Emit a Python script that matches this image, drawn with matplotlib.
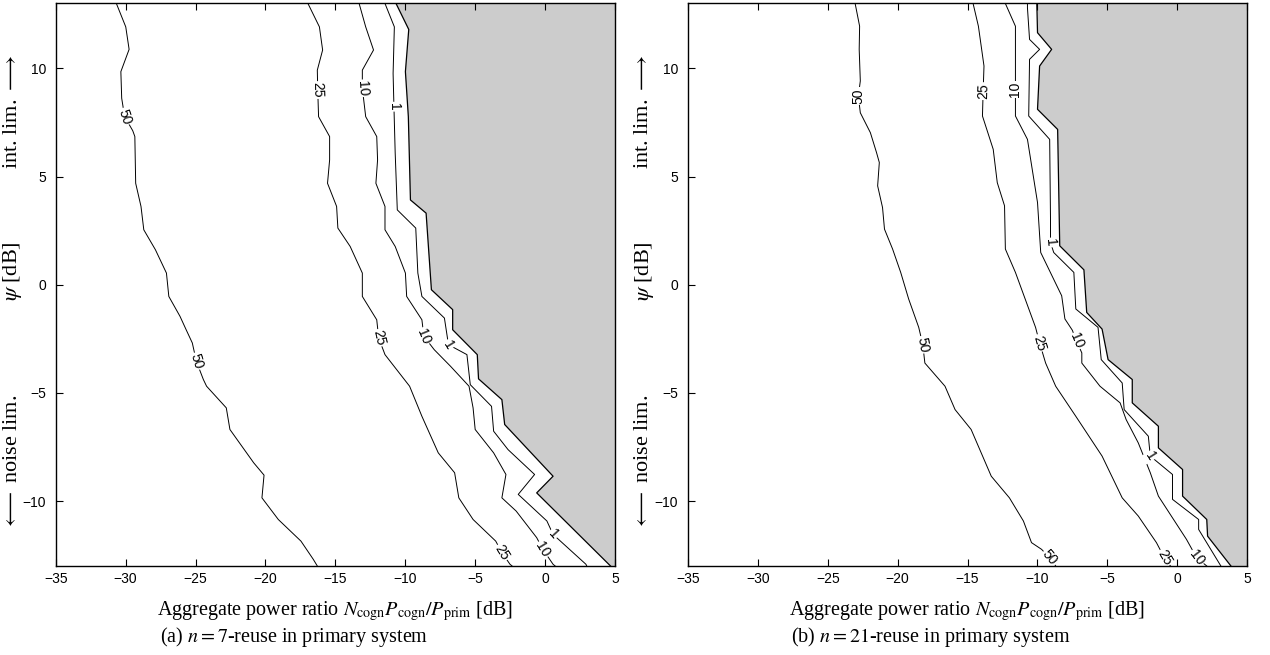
import matplotlib
matplotlib.use("Agg")
import matplotlib.pyplot as plt
import numpy as np

plt.rcParams['mathtext.fontset'] = 'stix'

# ---- data: (a) n = 7 reuse ----
a50_x = [-35, -30.66, -29.99, -29.75, -30.34, -30.28, -30.07, -29.49, -29.34, -29.28, -28.90, -28.70,
         -27.87, -27.08, -26.91, -26.11, -25.67, -25.23, -24.94, -24.44, -24.21, -22.80, -22.54,
         -20.84, -20.10, -20.25, -19.08, -17.46, -16.58, -16.29]
a50_y = [13, 13, 11.92, 10.88, 9.85, 8.62, 7.77, 7.12, 6.85, 4.69, 3.62, 2.54, 1.62, 0.54, -0.54,
         -1.46, -2.08, -2.69, -3.54, -4.38, -4.69, -5.69, -6.69, -8.23, -8.80, -9.85, -10.85,
         -11.85, -12.69, -13]
a25_x = [-16.96, -16.14, -15.91, -16.29, -16.26, -16.20, -15.41, -15.41, -15.56, -14.91, -14.82,
         -13.94, -13.07, -13.07, -12.04, -11.9, -11.45, -9.69, -8.81, -7.64, -6.47, -6.17, -5.15,
         -3.53, -3.09, -2.51, -2.36]
a25_y = [13, 11.92, 10.85, 9.92, 9.0, 7.77, 6.85, 5.77, 4.69, 3.62, 2.62, 1.77, 0.54, -0.54, -1.62,
         -2.46, -3.23, -4.69, -6.08, -7.77, -8.69, -9.85, -10.85, -11.85, -12.38, -12.92, -13]
a10_x = [-13.30, -12.83, -12.27, -13.07, -13.07, -12.83, -12.04, -11.98, -12.10, -11.45, -11.45,
         -10.72, -9.99, -9.90, -8.81, -8.67, -7.93, -6.76, -5.44, -5.15, -5.00, -3.68, -2.80,
         -3.09, -2.07, -0.60, -0.16, 0.57, 0.72]
a10_y = [13, 11.92, 10.85, 9.92, 9.08, 7.77, 6.85, 5.77, 4.69, 3.62, 2.54, 1.77, 0.54, -0.54, -1.62,
         -2.38, -3.0, -3.77, -4.69, -5.69, -6.69, -7.77, -8.77, -9.85, -10.46, -11.69, -12.23,
         -12.92, -13]
a1_x = [-11.45, -10.78, -10.87, -10.81, -10.72, -10.57, -9.25, -9.10, -8.81, -7.20, -6.91, -5.59,
        -5.35, -3.83, -3.68, -2.65, -0.75, -1.92, 0.13, 0.57, 2.92, 2.98]
a1_y = [13, 11.92, 9.77, 8.23, 6.08, 3.46, 2.62, 0.54, -0.54, -1.54, -2.77, -3.23, -4.62, -5.62,
        -6.77, -7.62, -8.77, -9.69, -10.92, -11.54, -12.92, -13]
a_grey_x = [-10.66, -9.75, -9.99, -9.78, -9.63, -8.51, -8.13, -6.61, -6.61, -4.85, -4.76, -3.09,
            -2.89, 0.57, -0.60, 4.68]
a_grey_y = [13, 11.8, 9.85, 7.77, 3.92, 3.31, -0.23, -1.15, -2.08, -3.23, -4.35, -5.31, -6.46,
            -8.85, -9.62, -13]
a_labels = [("50", -30.07, 7.77), ("50", -24.94, -3.54),
            ("25", -16.26, 9.0), ("25", -11.9, -2.46), ("25", -3.09, -12.38),
            ("10", -13.07, 9.08), ("10", -8.67, -2.38), ("10", -0.16, -12.23),
            ("1", -10.81, 8.23), ("1", -6.91, -2.77), ("1", 0.57, -11.54)]

# ---- (b) n = 21 reuse ----
b50_x = [-23.04, -22.72, -22.75, -22.67, -22.81, -22.67, -21.95, -21.51, -21.31, -21.43, -21.08,
         -20.94, -20.36, -19.78, -19.21, -18.49, -18.2, -18.05, -16.61, -15.89, -14.74, -13.30,
         -12.00, -11.0, -10.42, -9.70, -9.12, -8.69]
b50_y = [13, 11.95, 10.88, 9.42, 8.72, 7.95, 7.03, 6.11, 5.65, 4.57, 3.57, 2.57, 1.65, 0.57, -0.66,
         -1.97, -2.77, -3.62, -4.69, -5.77, -6.69, -8.85, -9.85, -10.92, -11.92, -12.23, -12.62, -13]
b25_x = [-14.60, -14.22, -13.82, -13.88, -13.93, -13.16, -12.87, -12.35, -12.29, -11.57, -10.13,
         -9.84, -9.41, -8.69, -7.25, -5.37, -3.93, -2.78, -1.48, -0.91, -0.48]
b25_y = [13, 11.95, 10.11, 8.95, 7.80, 6.26, 4.72, 3.65, 1.65, 0.57, -1.97, -2.69, -3.62, -4.69,
         -6.08, -7.92, -9.85, -10.69, -11.92, -12.62, -13]
b10_x = [-12.29, -11.57, -11.57, -11.57, -11.57, -10.71, -9.99, -9.76, -8.26, -8.03, -7.5, -7.2,
         -6.82, -6.82, -5.52, -4.08, -3.65, -2.78, -1.92, -1.34, 0.67, 1.40, 2.12]
b10_y = [13, 11.95, 10.11, 9.03, 7.80, 6.72, 3.80, 1.49, -0.51, -1.58, -2.1, -2.6, -3.15, -3.62,
         -4.69, -5.46, -6.23, -7.31, -8.69, -9.77, -11.77, -12.62, -13]
b1_x = [-10.71, -10.71, -10.56, -9.84, -10.56, -10.62, -9.12, -9.06, -9.06, -8.83, -7.39, -7.25,
        -5.66, -5.43, -3.93, -3.79, -2.06, -1.92, -0.33, -0.33, 1.54, 1.54, 3.13]
b1_y = [13, 12.8, 11.34, 10.88, 10.42, 7.80, 6.72, 3.0, 1.95, 1.49, 0.57, -1.12, -1.97, -3.46,
        -4.54, -5.77, -7.0, -7.92, -8.77, -9.92, -10.85, -11.31, -13]
b_grey_x = [-10.04, -9.99, -8.98, -9.84, -9.99, -8.55, -8.40, -6.67, -6.47, -5.37, -4.94, -3.21,
            -3.21, -1.34, -1.34, 0.39, 0.39, 2.12, 2.18, 3.85]
b_grey_y = [13, 11.65, 10.88, 10.11, 8.11, 7.18, 1.80, 0.69, -1.28, -2.05, -3.46, -4.38, -5.46,
            -6.54, -7.54, -8.54, -9.77, -10.85, -11.62, -13]
b_labels = [("50", -22.81, 8.72), ("50", -18.2, -2.77), ("50", -9.12, -12.62),
            ("25", -13.88, 8.95), ("25", -9.84, -2.69), ("25", -0.91, -12.62),
            ("10", -11.57, 9.03), ("10", -7.2, -2.6), ("10", 1.40, -12.62),
            ("1", -9.06, 1.95), ("1", -1.92, -7.92)]

xticks = [-35, -30, -25, -20, -15, -10, -5, 0, 5]
yticks = [-10, -5, 0, 5, 10]
tick_font = ['Liberation Sans Narrow', 'Liberation Sans', 'DejaVu Sans']
serif = ['Liberation Serif', 'DejaVu Serif']


def label_angle(ax, lines, x, y):
    # direction of the contour at the label, from the neighbouring vertices
    best = None
    for xs, ys in lines:
        d = np.hypot(np.array(xs) - x, np.array(ys) - y)
        i = int(np.argmin(d))
        if best is None or d[i] < best[0]:
            best = (d[i], xs, ys, i)
    _, xs, ys, i = best
    i0, i1 = max(i - 1, 0), min(i + 1, len(xs) - 1)
    p0 = ax.transData.transform((xs[i0], ys[i0]))
    p1 = ax.transData.transform((xs[i1], ys[i1]))
    ang = np.degrees(np.arctan2(p1[1] - p0[1], p1[0] - p0[0]))
    if ang > 90:
        ang -= 180
    if ang <= -90:
        ang += 180
    return ang


def panel(ax, lines, grey_x, grey_y, labels):
    ax.set_xlim(-35, 5)
    ax.set_ylim(-13, 13)
    ax.fill(list(grey_x) + [5, 5], list(grey_y) + [-13, 13],
            facecolor='#cccccc', edgecolor='none', zorder=1)
    ax.plot(grey_x, grey_y, color='black', lw=0.9, zorder=2)
    for xs, ys in lines:
        ax.plot(xs, ys, color='black', lw=0.7, zorder=2)
    for txt, x, y in labels:
        ang = label_angle(ax, lines, x, y)
        ax.text(x, y, txt, rotation=ang, rotation_mode='anchor', ha='center', va='center',
                fontsize=10, family=tick_font, zorder=4,
                bbox=dict(facecolor='white', edgecolor='none', pad=0.8))
    ax.set_xticks(xticks)
    ax.set_yticks(yticks)
    ax.tick_params(direction='in', top=True, right=False, length=5, width=0.8, labelsize=10)
    ax.tick_params(axis='x', pad=4)
    ax.tick_params(axis='y', pad=7)
    for lab in ax.get_xticklabels() + ax.get_yticklabels():
        lab.set_family(tick_font)
    for s in ax.spines.values():
        s.set_linewidth(1.0)
        s.set_zorder(5)


fig = plt.figure(figsize=(12.7, 6.55), dpi=100)
ax_a = fig.add_axes([55.7 / 1270, 1 - 566 / 655, 559.3 / 1270, 562.5 / 655])
ax_b = fig.add_axes([688 / 1270, 1 - 566 / 655, 559.0 / 1270, 562.5 / 655])

panel(ax_a, [(a50_x, a50_y), (a25_x, a25_y), (a10_x, a10_y), (a1_x, a1_y)],
      a_grey_x, a_grey_y, a_labels)
panel(ax_b, [(b50_x, b50_y), (b25_x, b25_y), (b10_x, b10_y), (b1_x, b1_y)],
      b_grey_x, b_grey_y, b_labels)

xlab = r'Aggregate power ratio $N_{\rm cogn}P_{\rm cogn}/P_{\rm prim}$ [dB]'
for ax, cap, capx, ylx in [(ax_a, r'(a) $n=7$-reuse in primary system', 160, 13),
                           (ax_b, r'(b) $n=21$-reuse in primary system', 791, 644)]:
    bb = ax.get_position()
    fig.text((bb.x0 + bb.x1) / 2, 1 - 615 / 655, xlab, family=serif, fontsize=14.5,
             ha='center', va='baseline')
    fig.text(capx / 1270, 1 - 642 / 655, cap, family=serif, fontsize=14.5,
             ha='left', va='baseline')
    fig.text(ylx / 1270, 1 - 112 / 655, r'int. lim. $\longrightarrow$', family=serif,
             fontsize=16, rotation=90, ha='center', va='center')
    fig.text(ylx / 1270, 1 - 271 / 655, r'$\psi$ [dB]', family=serif,
             fontsize=16, rotation=90, ha='center', va='center')
    fig.text(ylx / 1270, 1 - 462 / 655, r'$\longleftarrow$ noise lim.', family=serif,
             fontsize=16, rotation=90, ha='center', va='center')

fig.savefig('out.png', dpi=100)
